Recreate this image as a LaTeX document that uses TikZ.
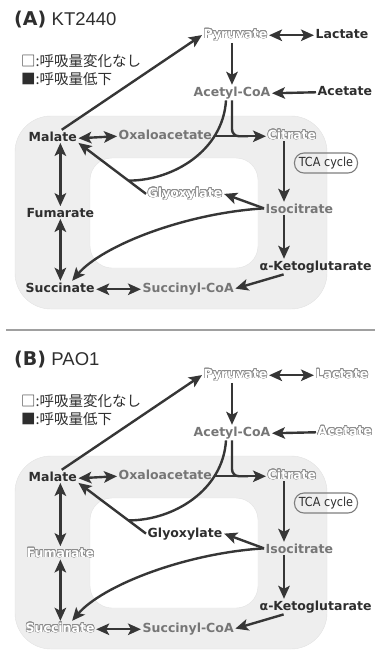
\documentclass[tikz,border=0pt]{standalone}
\usepackage{fontspec}
\setmainfont{DejaVu Sans}
\newfontfamily\jpfont{Noto Sans CJK JP}
\newfontfamily\titlefont{Liberation Sans}
\newfontfamily\condfont{DejaVu Sans Condensed}
\usepackage{contour}
\contourlength{0.55pt}
\usetikzlibrary{arrows.meta,positioning}

\definecolor{arrowgray}{HTML}{363636}
\definecolor{txtdark}{HTML}{2E2E2E}
\definecolor{txtgray}{HTML}{767676}
\definecolor{outlgray}{HTML}{8C8C8C}
\definecolor{cyclefill}{HTML}{EEEEEE}
\definecolor{cycleedge}{HTML}{E2E2E2}
\definecolor{sepgray}{HTML}{A0A0A0}

\tikzset{>={Stealth[length=13pt,width=11.5pt,inset=3pt]}}
\tikzstyle{metab}=[inner sep=1.5pt,anchor=base west,font=\fontsize{12.5}{14}\selectfont\bfseries]
\tikzstyle{flux}=[draw=arrowgray,line width=2.4pt,->]
\tikzstyle{rflux}=[draw=arrowgray,line width=2.4pt,<->]
\tikzstyle{mergeline}=[draw=arrowgray,line width=2.4pt]

% label looks: reduced respiration / no change / not tested
\newcommand{\lowlab}[1]{\textcolor{txtdark}{#1}}
\newcommand{\samelab}[1]{\textcolor{white}{\contour{outlgray}{#1}}}
\newcommand{\nalab}[1]{\textcolor{txtgray}{#1}}

% #1 letter, #2 strain, #3 lactate, #4 acetate, #5 glyoxylate, #6 fumarate, #7 succinate
\newcommand{\tcapanel}[7]{%
\draw[fill=cyclefill,draw=cycleedge,rounded corners=36pt] (15,116) rectangle (327,309);
\draw[fill=white,draw=cycleedge,rounded corners=22pt] (90,158) rectangle (258,268);

\node[anchor=base west,inner sep=0pt,font=\fontsize{19}{20}\selectfont\bfseries,text=txtdark] (ttl) at (14,25) {(#1)};
\node[anchor=base west,inner sep=0pt,font=\titlefont\fontsize{18.5}{20}\selectfont,text=txtdark] (strain) at ([xshift=5pt]ttl.base east) {#2};
\node[anchor=west,inner sep=0pt,font=\jpfont\fontsize{14.5}{16}\selectfont,text=txtdark] (lgsame) at (21,61) {□:呼吸量変化なし};
\node[anchor=west,inner sep=0pt,font=\jpfont\fontsize{14.5}{16}\selectfont,text=txtdark] (lglow) at (21,79) {■:呼吸量低下};

\node[metab] (pyr) at (202,38) {\samelab{Pyruvate}};
\node[metab] (lac) at (314,38) {#3{Lactate}};
\node[metab] (acoa) at (192,96) {\nalab{Acetyl-CoA}};
\node[metab] (ace) at (316,95) {#4{Acetate}};
\node[metab] (mal) at (27,141) {\lowlab{Malate}};
\node[metab] (oaa) at (117,139) {\nalab{Oxaloacetate}};
\node[metab] (cit) at (266,139) {\samelab{Citrate}};
\node[metab] (glx) at (146,197) {#5{Glyoxylate}};
\node[metab] (ici) at (264,213) {\nalab{Isocitrate}};
\node[metab] (akg) at (258,270) {\lowlab{α-Ketoglutarate}};
\node[metab] (sca) at (141,292) {\nalab{Succinyl-CoA}};
\node[metab] (fum) at (25,217) {#6{Fumarate}};
\node[metab] (suc) at (24,292) {#7{Succinate}};
\node[draw=outlgray!90!black,line width=1.1pt,rounded corners=9.5pt,minimum width=63pt,minimum height=20pt,inner sep=0pt,
      font=\condfont\fontsize{12.5}{13}\selectfont,text=txtdark] (tca) at (326,163) {TCA cycle};
\coordinate (tcacol) at (284,0);

\draw[rflux] (pyr.mid east) -- (lac.mid west);
\draw[flux] (acoa.north |- pyr.south) -- (acoa.north);
\draw[flux] (ace.mid west) -- (acoa.mid east);
\draw[flux] ([xshift=9pt]mal.north) -- (pyr.west);
\draw[rflux] (mal.mid east) -- (oaa.mid west);
\draw[flux] (oaa.mid east) -- (cit.mid west) coordinate[pos=0.66] (cjoin);
\draw[mergeline,rounded corners=7pt] (acoa.south) |- (cjoin);
\draw[flux] (glx.west) -- (mal.south east) coordinate[pos=0.26] (gjoin);
\draw[mergeline] ([xshift=-6pt]acoa.south) .. controls +(-3,50) and +(45,0) .. (gjoin);
\draw[flux] (tcacol |- cit.south) -- (tcacol |- ici.north);
\draw[flux] (tcacol |- ici.south) -- (tcacol |- akg.north);
\draw[flux] (ici.west) -- (glx.east);
\draw[flux] (ici.west) .. controls +(-80,5) and +(30,-35) .. ([xshift=12pt]suc.north);
\draw[flux] ([xshift=-32pt]akg.south) -- (sca.east);
\draw[rflux] (suc.mid east) -- (sca.mid west);
\draw[rflux] (fum.north |- mal.south) -- (fum.north);
\draw[rflux] (fum.south) -- (fum.south |- suc.north);
}

\begin{document}
\begin{tikzpicture}[x=1pt,y=-1pt]
\useasboundingbox (0,0) rectangle (375,651);

\begin{scope}[name prefix=A-]
\tcapanel{A}{KT2440}{\lowlab}{\lowlab}{\samelab}{\lowlab}{\lowlab}
\end{scope}

\draw[draw=sepgray,line width=2pt] (6,330) -- (375,330);

\begin{scope}[shift={(0,340)},name prefix=B-]
\tcapanel{B}{PAO1}{\samelab}{\samelab}{\lowlab}{\samelab}{\samelab}
\end{scope}

\end{tikzpicture}
\end{document}
